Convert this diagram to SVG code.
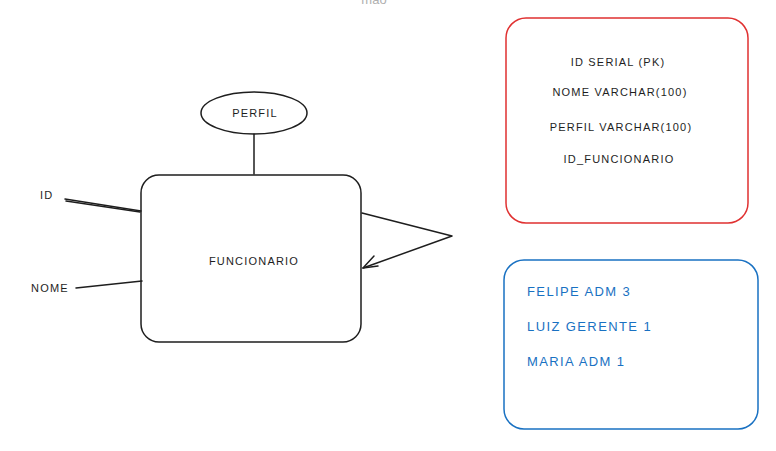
<svg xmlns="http://www.w3.org/2000/svg" width="776" height="451" viewBox="0 0 776 451">
<defs>
<style>
.t{font-family:"Liberation Sans",Arial,sans-serif;font-size:11px;fill:#1e1e1e;letter-spacing:1.2px}
.b{font-family:"Liberation Sans",Arial,sans-serif;font-size:13px;fill:#1971c2;letter-spacing:1.4px}
.ln{stroke:#1e1e1e;stroke-width:1.5;fill:none;stroke-linecap:round;stroke-linejoin:round}
</style>
</defs>
<rect width="776" height="451" fill="#ffffff"/>
<text x="374" y="4" text-anchor="middle" style="font-family:'Liberation Sans',Arial,sans-serif;font-size:13px;fill:#b0b0b0">mao</text>
<g id="funcionario">
<rect x="141" y="175" width="220" height="167" rx="18" fill="#ffffff" stroke="#1e1e1e" stroke-width="1.5"/>
<text class="t" x="254" y="265" text-anchor="middle">FUNCIONARIO</text>
</g>
<g id="perfil">
<ellipse cx="254" cy="113" rx="53" ry="21" fill="#ffffff" stroke="#1e1e1e" stroke-width="1.5"/>
<text class="t" x="255" y="117" text-anchor="middle">PERFIL</text>
</g>
<g id="id-attr">
<text class="t" x="40" y="199">ID</text>
</g>
<g id="nome-attr">
<text class="t" x="31" y="292">NOME</text>
</g>
<g id="tabela">
<rect x="506" y="18" width="242" height="205" rx="20" fill="#ffffff" stroke="#e03131" stroke-width="1.5"/>
<text class="t" x="618" y="66" text-anchor="middle">ID SERIAL (PK)</text>
<text class="t" x="620" y="96" text-anchor="middle">NOME VARCHAR(100)</text>
<text class="t" x="621" y="131" text-anchor="middle">PERFIL VARCHAR(100)</text>
<text class="t" x="619" y="163" text-anchor="middle">ID_FUNCIONARIO</text>
</g>
<g id="dados">
<rect x="504" y="260" width="254" height="169" rx="20" fill="#ffffff" stroke="#1971c2" stroke-width="1.5"/>
<text class="b" x="527" y="296">FELIPE ADM 3</text>
<text class="b" x="527" y="331">LUIZ GERENTE 1</text>
<text class="b" x="527" y="366">MARIA ADM 1</text>
</g>
<g id="connectors">
<path class="ln" d="M254 134 L254 174"/>
<path class="ln" d="M65 199 L141 211"/>
<path class="ln" d="M66 201 L140 212" stroke-width="1"/>
<path class="ln" d="M76 288 L142 281"/>
<path class="ln" d="M362 213 L452 236 L363 268"/>
<path class="ln" d="M374 256 L363 268 L378 266"/>
</g>
</svg>
